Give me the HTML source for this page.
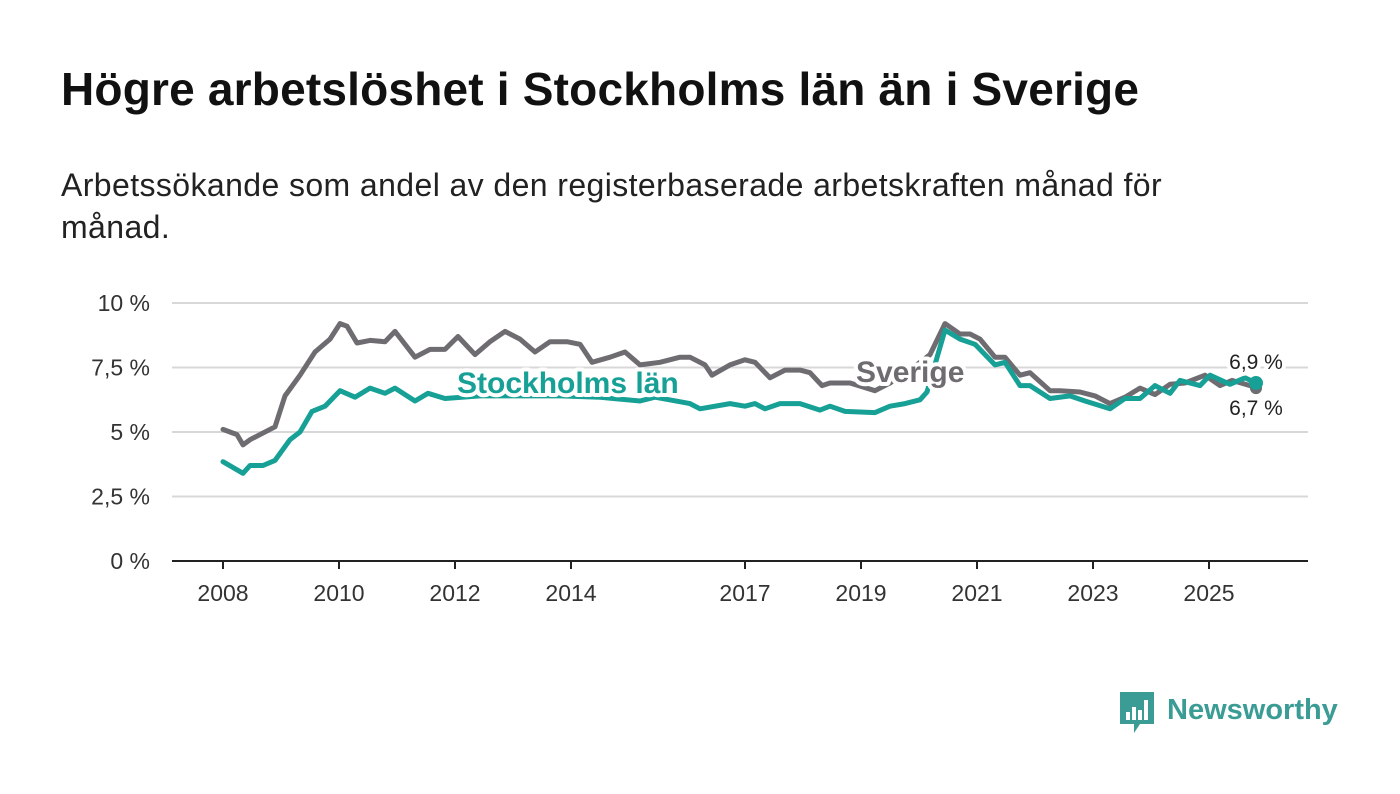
<!DOCTYPE html>
<html><head><meta charset="utf-8">
<style>
body{margin:0;background:#fff;font-family:"Liberation Sans",sans-serif;}
#wrap{position:relative;width:1400px;height:794px;overflow:hidden;background:#fff;}
h1{position:absolute;left:61px;top:62px;margin:0;font-size:46px;font-weight:bold;color:#111;letter-spacing:0.2px;white-space:nowrap;}
#sub{position:absolute;left:61px;top:164px;width:1200px;margin:0;font-size:32px;line-height:42px;color:#222;letter-spacing:0.4px;}
svg{position:absolute;left:0;top:0;}
</style></head><body>
<div id="wrap">
<h1>Högre arbetslöshet i Stockholms län än i Sverige</h1>
<p id="sub">Arbetssökande som andel av den registerbaserade arbetskraften månad för månad.</p>
<svg id="chart" width="1400" height="794"></svg>
</div>
<script>
const yTicks=[0,2.5,5,7.5,10];
const yTickLabels=["0 %","2,5 %","5 %","7,5 %","10 %"];
const xTicks=[2008,2010,2012,2014,2017,2019,2021,2023,2025];
const sveX=[223,237,243,250,275,285,300,315,330,340,347,357,370,385,395,415,430,445,458,475,490,505,520,535,550,567,580,592,610,625,640,660,680,690,705,712,730,745,755,770,785,800,810,822,830,850,875,890,910,930,945,960,970,980,995,1005,1020,1030,1050,1060,1080,1095,1110,1125,1140,1155,1170,1185,1205,1220,1232,1250,1256];
const sveV=[5.1,4.9,4.5,4.7,5.2,6.4,7.2,8.1,8.6,9.2,9.1,8.45,8.55,8.5,8.9,7.9,8.2,8.2,8.7,8.0,8.5,8.9,8.6,8.1,8.5,8.5,8.4,7.7,7.9,8.1,7.6,7.7,7.9,7.9,7.6,7.2,7.6,7.8,7.7,7.1,7.4,7.4,7.3,6.8,6.9,6.9,6.6,6.9,7.4,8.0,9.2,8.8,8.8,8.6,7.9,7.9,7.2,7.3,6.6,6.6,6.55,6.4,6.1,6.35,6.7,6.45,6.85,6.9,7.2,6.8,7.0,6.8,6.7];
const sthX=[223,243,250,263,275,290,300,312,325,340,355,370,385,395,415,428,445,480,520,560,600,640,655,690,700,730,745,755,765,780,800,820,830,845,875,890,905,920,927,945,960,975,995,1005,1020,1030,1050,1070,1085,1110,1125,1140,1155,1170,1180,1200,1210,1230,1245,1256];
const sthV=[3.85,3.4,3.7,3.7,3.9,4.7,5.0,5.8,6.0,6.6,6.35,6.7,6.5,6.7,6.2,6.5,6.3,6.4,6.4,6.4,6.35,6.2,6.35,6.1,5.9,6.1,6.0,6.1,5.9,6.1,6.1,5.85,6.0,5.8,5.75,6.0,6.1,6.25,6.55,8.95,8.6,8.4,7.6,7.7,6.8,6.8,6.3,6.4,6.2,5.9,6.3,6.3,6.8,6.5,7.0,6.8,7.2,6.85,7.1,6.9];
const sveYears=sveX.map(px=>2008+(px-223)/58);
const sthYears=sthX.map(px=>2008+(px-223)/58);
const NS="http://www.w3.org/2000/svg";
const svg=document.getElementById('chart');
const xs=y=>223+(y-2008)*58;
const ys=v=>561-v*25.8;
function mk(t,a){const e=document.createElementNS(NS,t);for(const k in a)e.setAttribute(k,a[k]);svg.appendChild(e);return e;}
yTicks.forEach((t,i)=>{
  const g=mk('line',{x1:172,x2:1308,y1:ys(t),y2:ys(t),stroke:t===0?'#222':'#d8d8d8','stroke-width':2});
  
  
  const l=mk('text',{x:150,y:ys(t)+8,'text-anchor':'end','font-size':23,fill:'#333'});
  l.textContent=yTickLabels[i];
  
  
});
xTicks.forEach(t=>{
  const tk=mk('line',{x1:xs(t),x2:xs(t),y1:561,y2:569,stroke:'#222','stroke-width':2});
  
  
  const l=mk('text',{x:xs(t),y:601,'text-anchor':'middle','font-size':23,fill:'#333'});
  l.textContent=t;
  
  
});
function line(xv,vv,color,name){
  const d=xv.map((x,i)=>(i?'L':'M')+xs(x).toFixed(1)+','+ys(vv[i]).toFixed(1)).join('');
  const p=mk('path',{d:d,fill:'none',stroke:color,'stroke-width':5,'stroke-linejoin':'round','stroke-linecap':'round'});
  
  
  return p;
}
line(sveYears,sveV,'#6e6c71','sverige-line');
line(sthYears,sthV,'#16a096','stockholm-line');
const ex=xs(sthYears[sthYears.length-1]);
const d1=mk('circle',{cx:ex,cy:ys(sveV[sveV.length-1]),r:6,fill:'#6e6c71'});


const d2=mk('circle',{cx:ex,cy:ys(sthV[sthV.length-1]),r:7,fill:'#16a096'});


function lab(txt,x,y,color,size,bold,name,anchor){
  const a={x:x,y:y,'font-size':size,fill:color,'text-anchor':anchor||'start','font-weight':bold?'bold':'normal',stroke:'#fff','stroke-width':8,'paint-order':'stroke','stroke-linejoin':'round'};
  const t=mk('text',a);t.textContent=txt;
  
  
}
lab('Stockholms län',457,393,'#16a096',30,true,'stockholm-label');
lab('Sverige',856,382,'#6e6c71',30,true,'sverige-label');
lab('6,9 %',1256,369,'#222',21,false,'stockholm-end-value','middle');
lab('6,7 %',1256,415,'#222',21,false,'sverige-end-value','middle');
const lg=mk('g',{});


const r=document.createElementNS(NS,'path');
r.setAttribute('d','M1120,692h34v32h-14l-6,9v-9h-14z');r.setAttribute('fill','#3a9c94');lg.appendChild(r);
[[1126,712,8],[1132,707,13],[1138,710,10],[1144,700,20]].forEach(b=>{const q=document.createElementNS(NS,'rect');q.setAttribute('x',b[0]);q.setAttribute('y',b[1]);q.setAttribute('width',4);q.setAttribute('height',b[2]);q.setAttribute('fill','#fff');lg.appendChild(q);});
const lt=document.createElementNS(NS,'text');
lt.setAttribute('x',1167);lt.setAttribute('y',719);lt.setAttribute('font-size',29);lt.setAttribute('font-weight','bold');lt.setAttribute('fill','#3a9c94');
lt.textContent='Newsworthy';lg.appendChild(lt);
</script>
</body></html>
